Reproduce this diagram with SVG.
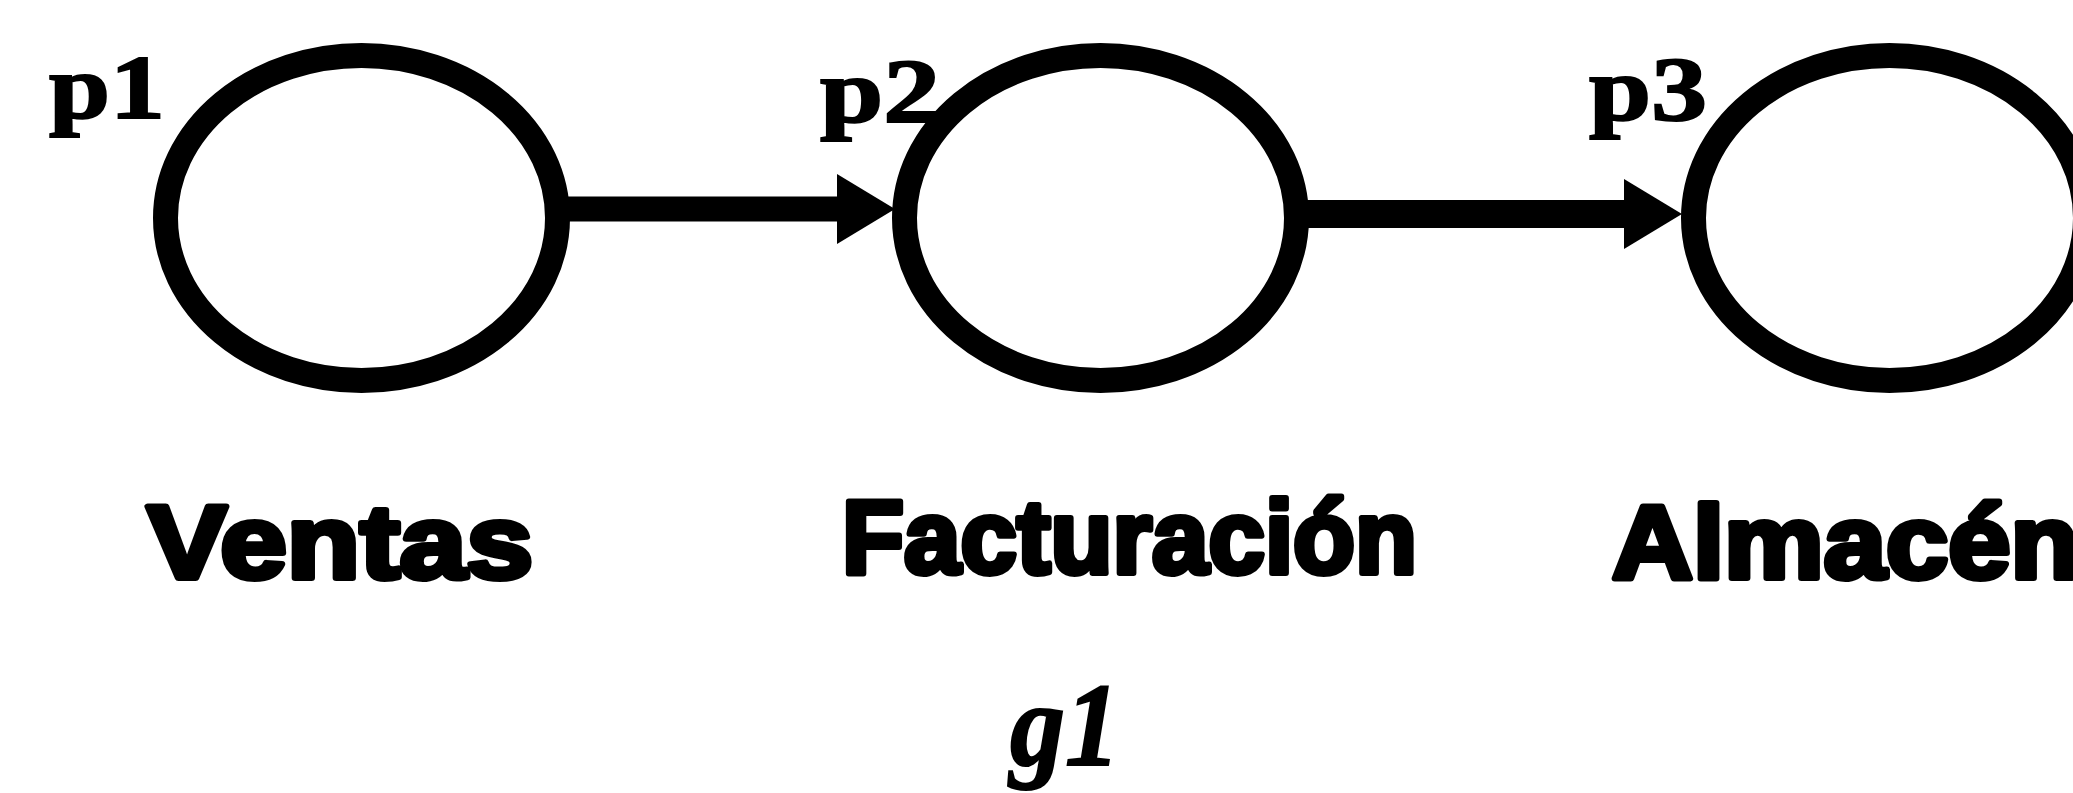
<svg xmlns="http://www.w3.org/2000/svg" width="2073" height="793" viewBox="0 0 2073 793">
<style>
.node{fill:none;stroke:#000;stroke-width:25}
.edge{fill:none;stroke:#000;stroke-width:25}
.edge2{fill:none;stroke:#000;stroke-width:28}
.plabel{font-family:"Liberation Serif",serif;font-weight:bold;font-size:92px;fill:#000;stroke:#000;stroke-width:2}
.name{font-family:"Liberation Sans",Arial,sans-serif;font-weight:bold;font-size:104px;fill:#000;stroke:#000;stroke-width:6;stroke-linejoin:round}
.title{font-family:"Liberation Serif",serif;font-weight:bold;font-style:italic;font-size:118px;fill:#000;stroke:#000;stroke-width:2}
</style>
<defs>
<marker id="arrow" markerUnits="userSpaceOnUse" markerWidth="60" markerHeight="70" refX="6" refY="35" orient="auto">
<path d="M0,0 L58,35 L0,70 z" fill="#000"/>
</marker>
</defs>
<rect width="2073" height="793" fill="#fff"/>
<g id="connectors">
<path class="edge" d="M560,209 L843,209" marker-end="url(#arrow)"/>
<path class="edge2" d="M1300,214 L1630,214" marker-end="url(#arrow)"/>
</g>
<g id="node-p1">
<ellipse class="node" cx="361.5" cy="218" rx="196" ry="162.5"/>
<text class="plabel" x="49" y="118" textLength="116" lengthAdjust="spacingAndGlyphs">p1</text>
<text class="name" x="147" y="578" textLength="386" lengthAdjust="spacingAndGlyphs">Ventas</text>
</g>
<g id="node-p2">
<ellipse class="node" cx="1100.5" cy="218" rx="196" ry="162.5"/>
<text class="plabel" x="820" y="122" textLength="120" lengthAdjust="spacingAndGlyphs">p2</text>
<text class="name" x="842" y="573" textLength="575" lengthAdjust="spacingAndGlyphs">Facturación</text>
</g>
<g id="node-p3">
<ellipse class="node" cx="1889.5" cy="218" rx="196" ry="162.5"/>
<text class="plabel" x="1589" y="120" textLength="118" lengthAdjust="spacingAndGlyphs">p3</text>
<text class="name" x="1612" y="578" textLength="467" lengthAdjust="spacingAndGlyphs">Almacén</text>
</g>
<text id="graph-title" class="title" x="1010" y="765" textLength="110" lengthAdjust="spacingAndGlyphs">g1</text>
</svg>
